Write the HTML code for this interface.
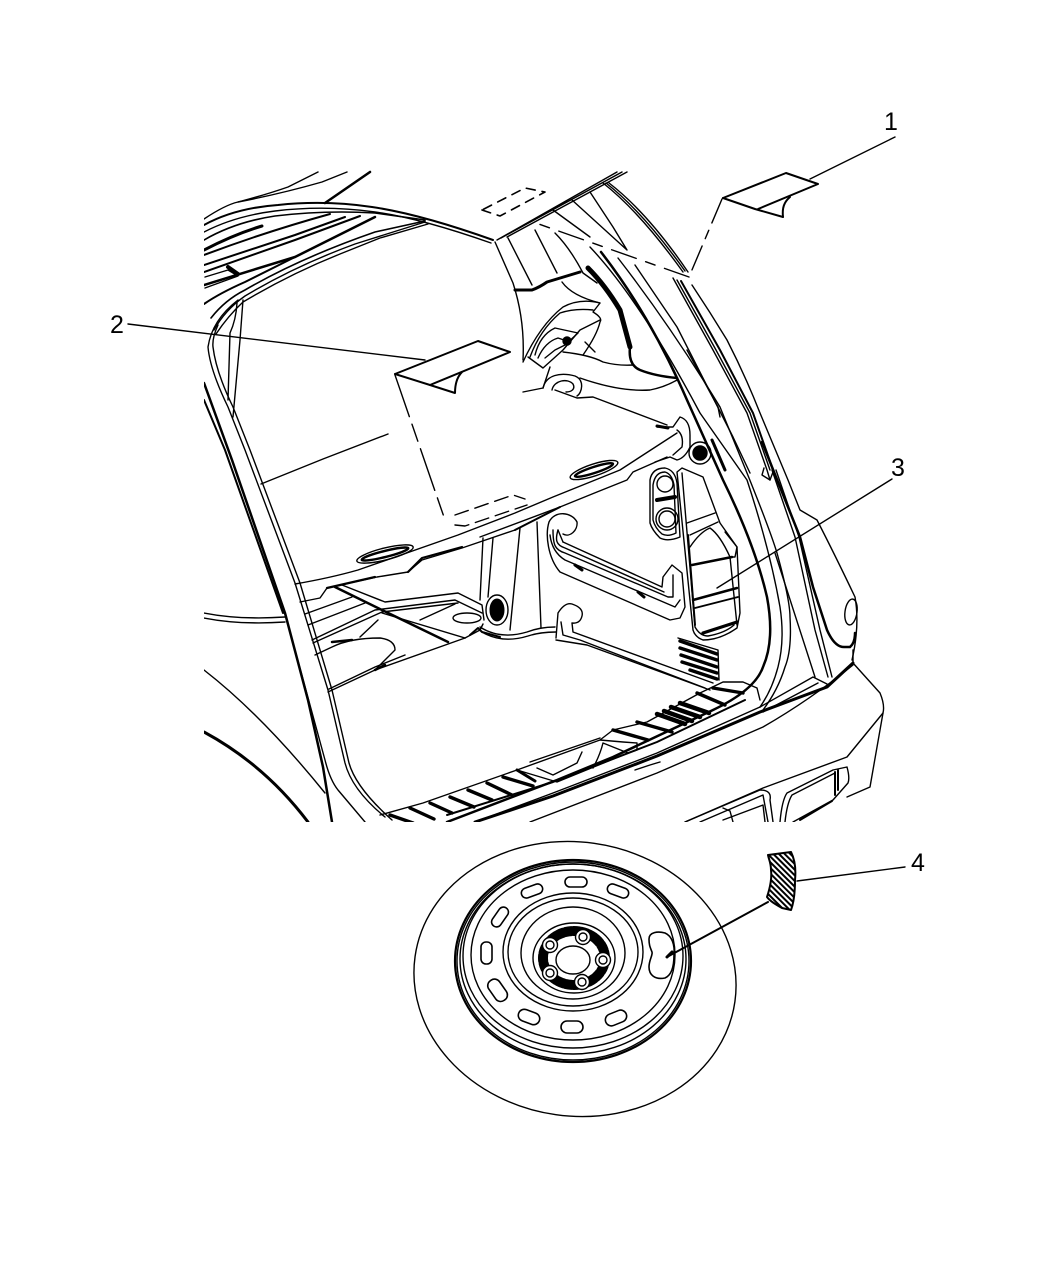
<!DOCTYPE html>
<html><head><meta charset="utf-8"><style>
html,body{margin:0;padding:0;background:#fff}
svg{display:block}
text{font-family:"Liberation Sans",sans-serif;font-size:25px;fill:#000}
</style></head><body>
<svg width="1050" height="1275" viewBox="0 0 1050 1275" xmlns="http://www.w3.org/2000/svg">
<defs>
<clipPath id="c"><rect x="204" y="170" width="700" height="652"/></clipPath>
<pattern id="h" width="4" height="4" patternUnits="userSpaceOnUse" patternTransform="rotate(45)"><rect width="4" height="2" fill="#000"/></pattern>
</defs>
<g fill="none" stroke="#000" stroke-width="1.4" stroke-linejoin="round" stroke-linecap="round">
<g clip-path="url(#c)">
<!-- top left lines -->
<path d="M204 219Q225 205 238 202Q265 195 288 187L318 172"/>
<path d="M238 202Q280 194 322 182L347 172"/>
<path stroke-width="2.5" d="M325 203L370 172"/>
<path stroke-width="2" d="M204 225Q235 208 278 205Q325 200 372 207Q420 214 493 240"/>
<path d="M204 232Q235 216 275 211Q325 205 375 212Q420 218 491 243"/>
<path stroke-width="1.6" d="M204 240Q235 222 275 216Q325 210 375 213L425 220"/>
<path stroke-width="3" d="M204 250Q235 234 262 226"/>
<path stroke-width="2" d="M204 255Q265 232 330 214"/>
<path stroke-width="2" d="M204 265L295 235L345 217"/>
<path stroke-width="2" d="M204 272L295 240L360 216"/>
<path stroke-width="2.5" d="M204 285L295 257L375 217"/>
<path stroke-width="4" d="M228 267L238 274"/>
<path d="M205 277L228 270L238 276L205 288"/>
<path stroke-width="2" d="M204 304Q220 293 245 282L295 257"/>
<path stroke-width="1.6" d="M211 318Q225 300 245 290Q300 258 375 232L425 221"/>
<path d="M214 330Q225 310 245 296Q295 266 355 244L425 222"/>
<path d="M216 334Q228 316 243 302Q290 274 340 254L380 238L428 224"/>
<!-- opening left -->
<path d="M238 300Q212 320 208 347Q210 370 228 407L245 450L295 583L328 690L345 763Q352 790 385 817"/>
<path d="M218 325Q212 338 213 347Q216 372 233 407L250 450L300 583L332 690L349 763Q356 788 392 820"/>
<path stroke-width="2.5" d="M204 383L232 460L285 613L308 700L323 767L332 822"/>
<path stroke-width="2" d="M204 400L225 450L283 613"/>
<path d="M295 650L325 760Q330 780 338 790L365 822"/>
<path d="M243 300L240 340L233 417"/>
<path d="M237 303Q236 320 230 333L228 400"/>
<path d="M388 434L323 459L261 484"/>
<!-- left arcs -->
<path d="M204 613Q240 620 285 617M204 618Q240 625 285 622"/>
<path d="M204 670Q262 715 325 793"/>
<path stroke-width="3" d="M204 732Q265 765 308 822"/>
<!-- shelf -->
<path d="M295 584Q330 578 358 570L458 535L515 513L553 497L620 470L677 433"/>
<path d="M300 602L320 598L327 588L377 577L408 572L422 560L462 548L515 530"/>
<path stroke-width="2.2" d="M327 588L375 577M408 572L422 558L462 547"/>
<path stroke-width="2" d="M515 530L560 507"/>
<path d="M480 537L560 507L597 492L627 480L633 472L667 457"/>
<ellipse cx="385" cy="554" rx="29" ry="6" transform="rotate(-14 385 554)"/>
<ellipse cx="385" cy="554" rx="24" ry="3" stroke-width="2.4" transform="rotate(-14 385 554)"/>
<ellipse cx="594" cy="470" rx="25" ry="6" transform="rotate(-18 594 470)"/>
<ellipse cx="594" cy="470" rx="20" ry="3" stroke-width="2.4" transform="rotate(-18 594 470)"/>
<!-- shelf back -->
<path d="M523 392L543 388M555 390L577 398L593 397L667 425"/>
<path d="M580 378Q620 392 650 390Q665 387 677 380"/>
<path d="M543 388C546 375 560 372 575 376C585 380 582 393 577 396"/>
<path d="M552 390C554 380 568 378 573 384C576 390 570 392 566 392"/>
<path d="M543 388L550 367"/>
<!-- floor -->
<path d="M305 614L352 597M308 625L365 603"/>
<path d="M312 640L375 610L455 600L482 613"/>
<path d="M313 643L382 612L458 603"/>
<path d="M342 585L385 602L458 593L482 605L484 620"/>
<path d="M335 587L382 610L448 642" stroke-width="2.5"/>
<path d="M382 613L465 638"/>
<path d="M315 655L332 647Q350 638 380 638Q395 640 395 650L375 670"/>
<path stroke-width="2.5" d="M332 642L352 640M375 670L385 665"/>
<path d="M328 692L375 670L465 638M329 689L375 667L405 655"/>
<path d="M360 637L378 620"/>
<path d="M420 620L455 604"/>
<ellipse cx="467" cy="618" rx="14" ry="5"/>
<path d="M465 638L480 630L483 624"/>
<path stroke-width="2" d="M470 635L478 628L482 632L500 637"/>
<path d="M483 538L480 600M493 538L488 597"/>
<ellipse cx="497" cy="610" rx="11" ry="15"/>
<ellipse cx="497" cy="610" rx="7" ry="11" fill="#000" stroke-width="1"/>
<path d="M520 528L510 630M537 522L541 628"/>
<path d="M480 627Q500 640 527 632Q540 627 555 627M482 632Q502 644 528 636Q540 632 556 632"/>
<!-- pillar left -->
<path d="M495 242L513 283Q525 320 523 360"/>
<path d="M508 238L532 285M535 230L557 273"/>
<path stroke-width="3" d="M515 290L532 290Q540 287 547 282L580 272"/>
<path d="M555 233Q570 248 583 273L597 283"/>
<path d="M562 282Q572 296 600 303"/>
<path stroke-width="2.5" d="M630 347Q628 365 640 370Q655 376 677 378"/>
<path stroke-width="5" d="M588 268Q605 285 620 310L630 347"/>
<!-- belt -->
<path d="M523 362Q540 325 563 307Q580 298 600 303L593 312Q603 318 600 322Q597 335 583 355"/>
<path d="M530 357Q540 330 560 313Q575 308 593 310"/>
<path d="M528 357L543 368L563 350L580 330L600 320"/>
<path d="M535 355Q540 335 555 328L578 333L565 345L555 350L545 358"/>
<path d="M538 358Q545 342 558 338L570 342"/>
<circle cx="567" cy="341" r="4" fill="#000"/>
<path d="M563 352Q590 355 603 362Q618 366 633 365"/>
<path d="M585 342L595 352"/>
<!-- roof -->
<path d="M497 240L617 172M501 238L622 172M507 237L627 172"/>
<path stroke-dasharray="9 7" stroke-width="1.6" d="M482 210L500 216L545 192L525 188L482 210"/>
<!-- right pillar lines -->
<path d="M603 183Q640 212 683 272M606 183Q643 212 685 271M609 183Q648 213 688 272"/>
<path d="M572 200L627 250M590 192L613 227L627 250M553 210L590 237"/>
<path d="M590 247Q640 300 700 413L747 480Q770 550 780 607Q785 640 778 667Q772 690 760 707"/>
<path stroke-width="2.5" d="M601 252Q650 315 687 400L723 480Q755 545 767 597Q775 640 763 667Q755 690 713 710L613 757L557 780L447 822"/>
<path d="M618 258Q670 325 720 407L747 473Q770 530 777 553Q790 600 790 617Q792 650 785 667Q778 690 763 710"/>
<path d="M635 265L677 327L733 437L750 473"/>
<path d="M687 350L718 407L720 417"/>
<path d="M673 278L713 350L747 413L767 470L770 480"/>
<path d="M677 280L716 350L750 413L770 470"/>
<path stroke-width="2" d="M681 281L720 350L753 413L773 470"/>
<path d="M692 285Q710 312 727 340Q745 375 760 413L788 480L800 510L817 520Q835 555 855 597Q860 625 852 660"/>
<path d="M764 468L762 475L770 480L773 472"/>
<path d="M772 470L795 537L815 630L828 677M776 470L799 537L820 630L832 677"/>
<path stroke-width="2.5" d="M762 442L800 537L813 587L827 630Q835 648 845 647L850 647Q855 643 855 633"/>
<path d="M775 553L815 677"/>
<ellipse cx="851" cy="612" rx="6" ry="13" transform="rotate(8 851 612)"/>
<!-- bracket -->
<path d="M657 427L673 427L680 417Q690 420 690 435L690 447Q685 458 677 460L670 457L655 462"/>
<path d="M677 430Q684 435 682 447L673 455"/>
<path stroke-width="3" d="M657 426L668 428"/>
<circle cx="700" cy="453" r="11"/><circle cx="700" cy="453" r="7" fill="#000"/>
<path stroke-width="3" d="M712 440L725 470"/>
<!-- storage pockets -->
<path d="M650 480Q652 468 665 468Q675 470 677 483L680 537Q668 542 660 538Q652 530 650 523Z"/>
<path d="M653 485Q655 472 665 472Q672 474 674 485L676 533Q668 537 662 534Q655 528 653 520Z"/>
<circle cx="665" cy="484" r="8"/>
<circle cx="667" cy="519" r="8"/><circle cx="667" cy="519" r="11"/>
<path stroke-width="4" d="M657 500L675 497"/>
<!-- lamp -->
<path d="M677 472L682 468L703 477L720 523L737 547L740 613L737 628Q720 640 703 640Q695 637 693 630Z"/>
<path d="M682 473L695 627Q700 636 708 636Q725 633 734 625"/>
<path stroke-width="2" d="M688 535L695 625"/>
<path d="M687 523L715 513M690 535L718 522"/>
<path d="M690 547Q700 532 710 528Q720 535 730 557"/>
<path d="M725 532L737 547L735 557L730 557"/>
<path stroke-width="2.5" d="M692 565L732 557M693 600L737 588"/>
<path stroke-width="1.8" d="M695 608L738 597"/>
<path stroke-width="3.2" d="M703 633L737 622"/>
<path d="M730 557L737 625"/>
<!-- pocket 1 -->
<path d="M563 534C570 538 578 530 577 522C572 512 555 510 549 522C545 535 548 558 560 572L670 620L680 618L685 607L682 573L672 565L663 577L662 587L563 542"/>
<path d="M558 530L563 542"/>
<path d="M553 530C553 545 555 550 565 553L668 597L673 597L673 575"/>
<path d="M558 530C555 540 556 545 565 548L664 592"/>
<path d="M550 535Q552 552 565 560L675 607L680 600"/>
<path stroke-width="3" d="M575 565L582 570M638 592L644 597"/>
<!-- pocket 2 -->
<path d="M556 638L558 613Q565 602 572 604Q584 608 582 616Q580 624 572 623L573 632L713 683"/>
<path d="M556 640L587 645L710 690"/>
<path d="M561 622L563 635L580 640L705 688"/>
<!-- louver -->
<path d="M678 638L718 650L719 680" />
<path stroke-width="3.4" d="M680 641L717 654M680 648L717 660M681 655L717 667M682 662L717 673M690 670L717 679"/>
<!-- sill -->
<path d="M380 815L423 803L517 770L600 740L613 730L647 722L700 693L723 682L743 682L757 688L760 700"/>
<path d="M517 770L557 782L628 753L637 750L637 743L623 742L600 740"/>
<path d="M537 768L553 775L577 763L582 752"/>
<path d="M593 768Q600 755 603 743L628 753"/>
<path d="M530 762L600 738"/>
<path stroke-width="3" d="M517 770L535 781"/>
<path stroke-width="3.4" d="M503 777L533 786M487 783L512 795M468 790L492 800M450 797L474 807M430 803L452 813M410 808L434 819M390 815L413 823"/>
<path stroke-width="3.4" d="M613 730L648 740M637 722L672 732M697 693L725 705M713 688L743 693"/>
<path stroke-width="4.5" d="M657 714L685 724M664 711L692 721M671 707L700 717M680 703L709 713"/>
<!-- bumper -->
<path stroke-width="2" d="M447 815L553 782L657 742L745 700"/>
<path d="M475 822L553 793L657 753L760 707"/>
<path stroke-width="3" d="M475 822L553 796L657 756L760 712L827 687L853 663"/>
<path d="M530 822L657 773L763 727Q810 700 853 665"/>
<path d="M760 707L813 677L827 684M763 712L818 683"/>
<path d="M635 770L650 765L660 762"/>
<path d="M853 663L853 650"/>
<path d="M853 663L880 693Q885 705 883 713L880 730L870 787L847 797"/>
<path d="M685 822L763 788L847 757L883 713"/>
<!-- lamps -->
<path d="M685 822L760 790Q772 790 770 800L773 822"/>
<path d="M700 822L763 795L768 822"/>
<path d="M723 820L763 805L765 822M723 808L730 811L733 822"/>
<path d="M780 822Q782 800 787 793L833 770L847 767Q850 778 848 783L833 800L793 822"/>
<path d="M785 822Q787 803 792 795L835 773"/>
<path stroke-width="2" d="M835 772L835 795M838 770L838 790M800 820L832 801"/>
</g>
<!-- decal 1 -->
<path stroke-width="2" d="M723 198L786 173L818 184L758 209"/>
<path stroke-width="2" d="M723 198L755 209L783 217"/>
<path stroke-width="2" d="M783 217C782 208 784 202 790 197"/>
<path d="M895 137L810 179"/>
<path stroke-width="1.4" stroke-dasharray="26 8 9 8" d="M722 199L689 277"/>
<path stroke-width="1.4" stroke-dasharray="26 10 10 10" d="M689 277L533 222"/>
<!-- decal 2 -->
<path stroke-width="2" d="M395 374L478 341L510 352L430 385"/>
<path stroke-width="2" d="M395 374L430 385L455 393C455 384 457 377 462 372"/>
<path d="M128 324L425 360"/>
<path stroke-width="1.4" stroke-dasharray="44 8 18 8" d="M395 375L445 520"/>
<path stroke-width="1.4" stroke-dasharray="14 7" d="M455 515L513 495L525 499M455 525L465 526L527 505"/>
<!-- leader 3 -->
<path d="M892 479L717 588"/>
<!-- wheel -->
<ellipse cx="575" cy="979" rx="161.5" ry="137" transform="rotate(8 575 979)"/>
<ellipse cx="573" cy="961" rx="118" ry="101" stroke-width="2.2"/>
<ellipse cx="573" cy="961" rx="116" ry="99"/>
<ellipse cx="573" cy="959" rx="113" ry="95"/>
<ellipse cx="573" cy="956" rx="110" ry="92"/>
<ellipse cx="573" cy="955" rx="102" ry="85"/>
<ellipse cx="573" cy="952" rx="70" ry="59"/>
<ellipse cx="573" cy="952" rx="65" ry="54"/>
<ellipse cx="573" cy="953" rx="52" ry="46"/>
<ellipse cx="574" cy="958" rx="41" ry="35"/>
<ellipse cx="574" cy="958" rx="31" ry="27" stroke-width="10" stroke-dasharray="6 2"/>
<ellipse cx="573" cy="960" rx="17" ry="14" fill="#fff"/>
<g fill="#fff"><circle cx="583" cy="937" r="7.5"/><circle cx="550" cy="945" r="7.5"/><circle cx="603" cy="960" r="7.5"/><circle cx="550" cy="973" r="7.5"/><circle cx="582" cy="982" r="7.5"/></g>
<g><circle cx="583" cy="937" r="4"/><circle cx="550" cy="945" r="4"/><circle cx="603" cy="960" r="4"/><circle cx="550" cy="973" r="4"/><circle cx="582" cy="982" r="4"/></g>
<g stroke-width="1.6">
<rect x="565" y="877" width="22" height="10" rx="5"/>
<rect x="521" y="886" width="22" height="10" rx="5" transform="rotate(-20 532 891)"/>
<rect x="607" y="886" width="22" height="10" rx="5" transform="rotate(20 618 891)"/>
<rect x="489" y="912" width="22" height="10" rx="5" transform="rotate(-55 500 917)"/>
<rect x="476" y="948" width="22" height="11" rx="5" transform="rotate(90 487 953)"/>
<rect x="486" y="984" width="24" height="13" rx="6" transform="rotate(55 498 990)"/>
<rect x="518" y="1011" width="22" height="12" rx="6" transform="rotate(20 529 1017)"/>
<rect x="561" y="1021" width="22" height="12" rx="6"/>
<rect x="605" y="1012" width="22" height="12" rx="6" transform="rotate(-22 616 1018)"/>
</g>
<path stroke-width="1.6" d="M649 939C649 932 658 931 665 933C672 936 675 945 674 955C674 965 672 975 665 978C655 980 649 975 649 967C649 960 653 955 652 952C650 947 649 945 649 939Z"/>
<path stroke-width="2" d="M768 902L667 957"/>
<path stroke-width="3" d="M667 957L672 952"/>
<!-- decal 4 -->
<path fill="url(#h)" stroke-width="2" d="M768 855L791 852C795 860 796 870 795 880C795 892 794 902 791 910L782 908C775 904 770 901 767 897C770 888 772 878 771 870C771 863 769 860 768 855Z"/>
<path d="M797 881L905 867"/>
</g>
<text x="884" y="130">1</text>
<text x="110" y="333">2</text>
<text x="891" y="476">3</text>
<text x="911" y="871">4</text>
</svg>
</body></html>
